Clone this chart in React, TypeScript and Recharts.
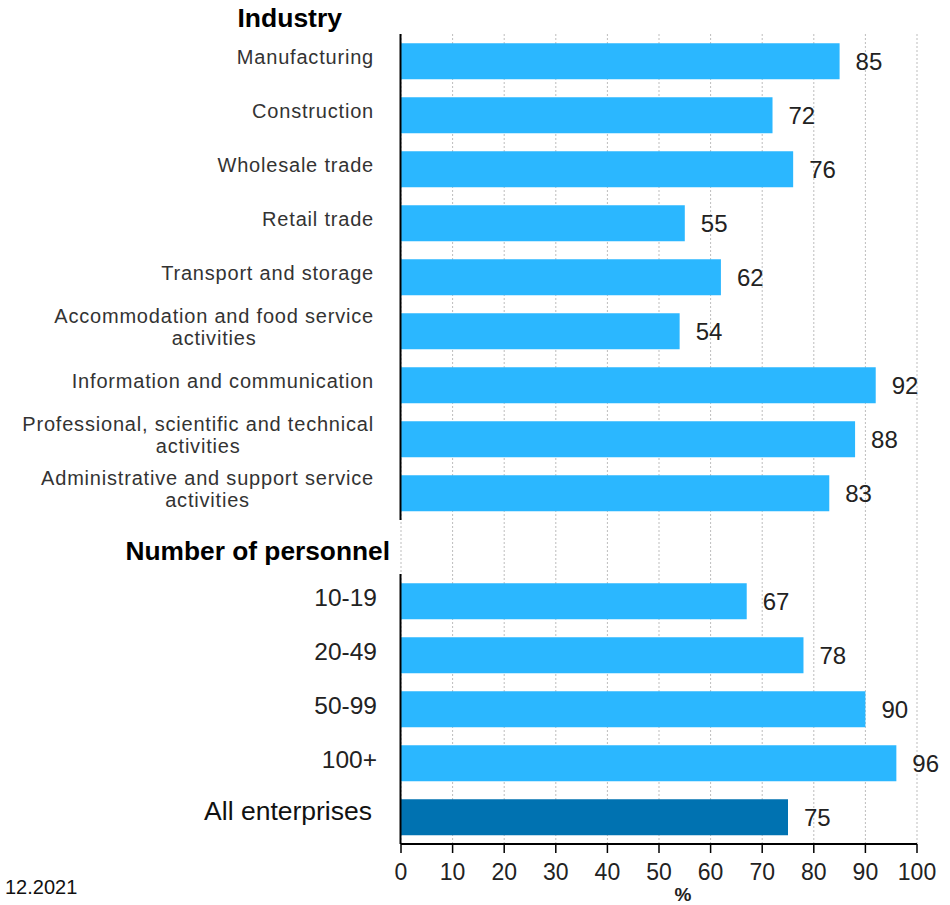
import React from 'react';
import { BarChart, Bar, XAxis, YAxis, CartesianGrid, Cell, LabelList } from 'recharts';

const industryLabels = [
  'Manufacturing',
  'Construction',
  'Wholesale trade',
  'Retail trade',
  'Transport and storage',
  'Accommodation and food service\nactivities',
  'Information and communication',
  'Professional, scientific and technical\nactivities',
  'Administrative and support service\nactivities',
];
const industryValues = [85, 72, 76, 55, 62, 54, 92, 88, 83];
const groupTitle = 'Industry';
const personnelHeader = 'Number of personnel';
const personnelLabels = ['10-19', '20-49', '50-99', '100+'];
const personnelValues = [67, 78, 90, 96];
const totalLabel = 'All enterprises';
const totalValue = 75;
const xTicks = [0, 10, 20, 30, 40, 50, 60, 70, 80, 90, 100];
const axisTitle = '%';
const dateNote = '12.2021';

type Kind = 'industry' | 'header' | 'size' | 'total';
type Row = { name: string; value: number | null; kind: Kind };

const rows: Row[] = [
  ...industryLabels.map((n, i) => ({ name: n, value: industryValues[i], kind: 'industry' as Kind })),
  { name: personnelHeader, value: null, kind: 'header' as Kind },
  ...personnelLabels.map((n, i) => ({ name: n, value: personnelValues[i], kind: 'size' as Kind })),
  { name: totalLabel, value: totalValue, kind: 'total' as Kind },
];

const W = 950;
const H = 905;
const MARGIN = { top: 34, right: 33, bottom: 0, left: 0 };
const YW = 401;
const XH = 61;
const ROW_H = (H - MARGIN.top - MARGIN.bottom - XH) / rows.length;

const LIGHT = '#2bb7ff';
const DARK = '#0072b1';
const FONT = 'Arial, "Liberation Sans", sans-serif';

let ctx: CanvasRenderingContext2D | null = null;
function measure(text: string, font: string, ls: number) {
  if (!ctx) ctx = document.createElement('canvas').getContext('2d');
  if (!ctx) return text.length * 10;
  ctx.font = font;
  return ctx.measureText(text).width + ls * text.length;
}

const IND_FS = 20;
const IND_LS = 0.8;

const YTick = (props: any) => {
  const { x, y, payload } = props;
  const row = rows.find((r) => r.name === payload.value);
  if (!row) return null;
  const axisLine =
    row.kind !== 'header' ? (
      <line x1={x - 0.5} x2={x - 0.5} y1={y - ROW_H / 2} y2={y + ROW_H / 2} stroke="#000" strokeWidth={2} />
    ) : null;
  if (row.kind === 'industry') {
    const lines = row.name.split('\n');
    const end = x - 27;
    if (lines.length === 1) {
      return (
        <g>
          {axisLine}
          <text x={end} y={y - 4} textAnchor="end" dominantBaseline="central" fontSize={IND_FS} letterSpacing={IND_LS} fill="#333" fontFamily={FONT}>
            {lines[0]}
          </text>
        </g>
      );
    }
    const w1 = measure(lines[0], `${IND_FS}px Arial, "Liberation Sans", sans-serif`, IND_LS);
    const cx = end - w1 / 2;
    return (
      <g>
        {axisLine}
        <text x={end} y={y - 15} textAnchor="end" dominantBaseline="central" fontSize={IND_FS} letterSpacing={IND_LS} fill="#333" fontFamily={FONT}>
          {lines[0]}
        </text>
        <text x={cx} y={y + 7} textAnchor="middle" dominantBaseline="central" fontSize={IND_FS} letterSpacing={IND_LS} fill="#333" fontFamily={FONT}>
          {lines[1]}
        </text>
      </g>
    );
  }
  if (row.kind === 'header') {
    return (
      <text x={x - 11} y={y + 4} textAnchor="end" dominantBaseline="central" fontSize={26.3} fontWeight="bold" fill="#000" fontFamily={FONT}>
        {row.name}
      </text>
    );
  }
  if (row.kind === 'size') {
    return (
      <g>
        {axisLine}
        <text x={x - 24} y={y - 4} textAnchor="end" dominantBaseline="central" fontSize={24.5} fill="#222" fontFamily={FONT}>
          {row.name}
        </text>
      </g>
    );
  }
  return (
    <g>
      {axisLine}
      <text x={x - 29} y={y - 6} textAnchor="end" dominantBaseline="central" fontSize={26.5} fill="#111" fontFamily={FONT}>
        {row.name}
      </text>
    </g>
  );
};

const IndustryTitle = (p: any) => {
  const vb = p.viewBox || { x: 0, y: MARGIN.top, width: YW, height: 0 };
  return (
    <text x={vb.x + vb.width - 59} y={vb.y - 16} textAnchor="end" dominantBaseline="central" fontSize={26.5} fontWeight="bold" fill="#000" fontFamily={FONT}>
      {groupTitle}
    </text>
  );
};

const PercentTitle = (p: any) => {
  const vb = p.viewBox || { x: YW, y: H - XH, width: W - YW - MARGIN.right, height: XH };
  return (
    <text x={vb.x + vb.width / 2 + 24} y={vb.y + vb.height - 11} textAnchor="middle" dominantBaseline="central" fontSize={19} fontWeight="bold" fill="#222" fontFamily={FONT}>
      {axisTitle}
    </text>
  );
};

export default function App() {
  return (
    <div style={{ position: 'absolute', left: 0, top: 0, width: W, height: H, background: '#fff' }}>
      <BarChart
        width={W}
        height={H}
        data={rows}
        layout="vertical"
        margin={MARGIN}
        barCategoryGap="17%"
      >
        <CartesianGrid horizontal={false} vertical={true} stroke="#bdbdbd" strokeDasharray="2 2" />
        <XAxis
          type="number"
          domain={[0, 100]}
          ticks={xTicks}
          interval={0}
          height={XH}
          tickSize={9}
          tickMargin={11}
          axisLine={{ stroke: '#000', strokeWidth: 2 }}
          tickLine={{ stroke: '#000', strokeWidth: 1.5 }}
          tick={{ fontSize: 23, fill: '#222', fontFamily: FONT }}
          label={{ position: 'insideBottom', content: PercentTitle }}
        />
        <YAxis
          type="category"
          dataKey="name"
          width={YW}
          interval={0}
          tickSize={0}
          tickMargin={0}
          axisLine={false}
          tickLine={false}
          tick={<YTick />}
          label={{ position: 'insideTopRight', content: IndustryTitle }}
        />
        <Bar dataKey="value" isAnimationActive={false}>
          {rows.map((r, i) => (
            <Cell key={i} fill={r.kind === 'total' ? DARK : LIGHT} />
          ))}
          <LabelList
            dataKey="value"
            position="right"
            offset={16}
            fontSize={24}
            fill="#222"
            fontFamily={FONT}
            formatter={(v: any) => (v == null ? '' : v)}
          />
        </Bar>
      </BarChart>
      <div style={{ position: 'absolute', left: 5, top: 876, fontSize: 20, fontFamily: FONT, color: '#111', lineHeight: 'normal' }}>
        {dateNote}
      </div>
    </div>
  );
}
